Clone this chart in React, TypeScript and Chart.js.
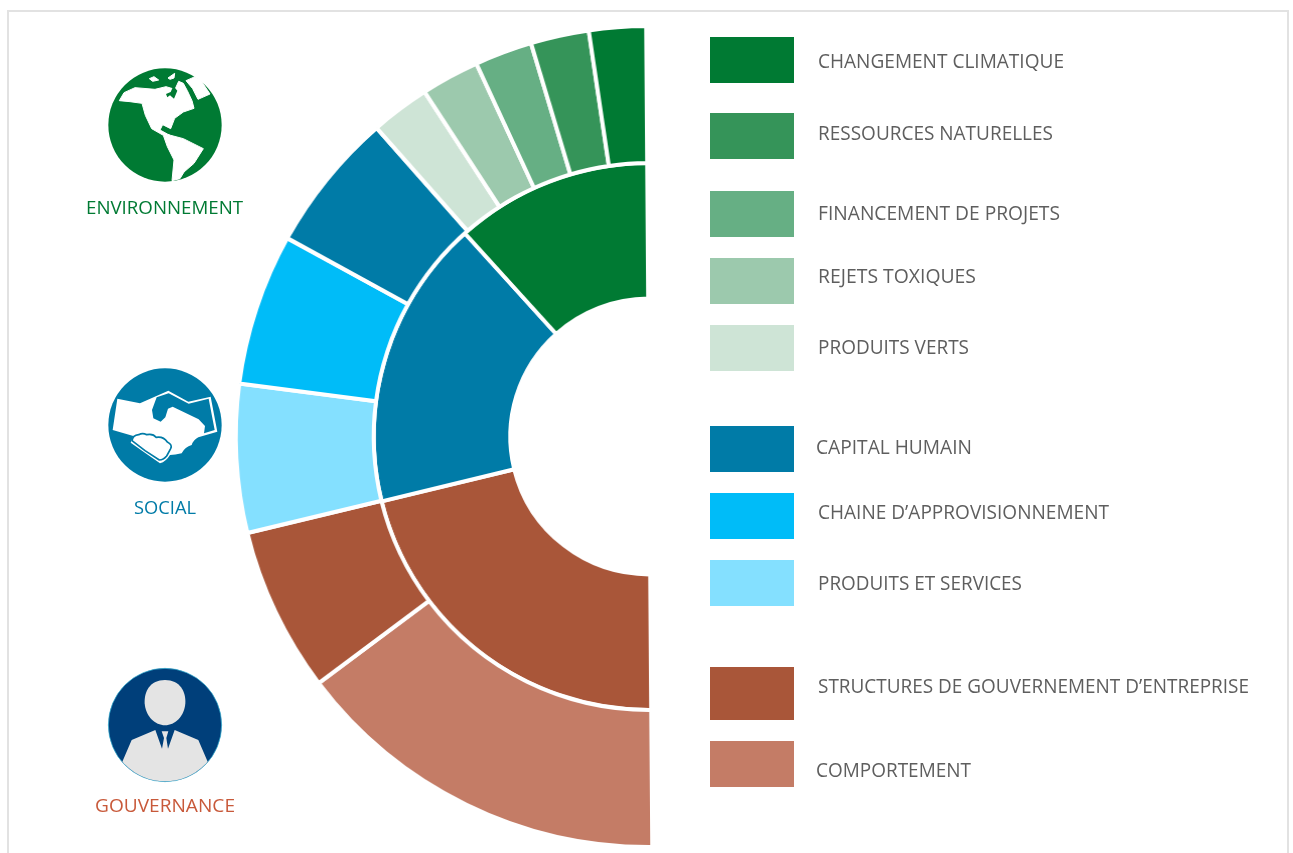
import React, { useEffect, useRef } from "react";
import { Chart, registerables } from "chart.js";

Chart.register(...registerables);

// Data, listed clockwise from the bottom of the half ring
const outerLabels = [
  "COMPORTEMENT",
  "STRUCTURES DE GOUVERNEMENT D’ENTREPRISE",
  "PRODUITS ET SERVICES",
  "CHAINE D’APPROVISIONNEMENT",
  "CAPITAL HUMAIN",
  "PRODUITS VERTS",
  "REJETS TOXIQUES",
  "FINANCEMENT DE PROJETS",
  "RESSOURCES NATURELLES",
  "CHANGEMENT CLIMATIQUE",
];
const outerValues = [53.5, 23.35, 21, 21.5, 19.85, 8.35, 8.2, 8.1, 8.2, 8];
const outerColors = ["#c47c66", "#a95639", "#84e0ff", "#00bcf8", "#007ba7", "#cee4d6", "#9cc9ad", "#66af84", "#359459", "#007a33"];

const innerLabels = ["GOUVERNANCE", "SOCIAL", "ENVIRONNEMENT"];
const innerValues = [76.7, 61.7, 41.6];
const innerColors = ["#a95639", "#007ba7", "#007a33"];

// Legend, top to bottom
const legendNames = [...outerLabels].reverse();
const legendColors = [...outerColors].reverse();
const legendBoxes: [number, number][] = [[37, 46], [113, 46], [191, 46], [258, 46], [325, 46], [426, 46], [493, 46], [560, 46], [667, 53], [741, 46]];
const legendTextY = [68, 140, 220, 283, 354, 454, 519, 590, 693, 777];
const legendTextX = [818, 818, 818, 818, 818, 816, 818, 818, 818, 816];
const legendTextW = [246, 235, 242, 158, 151, 156, 291, 204, 431, 155];

const FONT = "'Open Sans', sans-serif";

function Globe() {
  return (
    <svg style={{ position: "absolute", left: 80, top: 50 }} width={170} height={180} viewBox="0 0 510 540">
      <circle cx={255} cy={225} r={170} fill="#007a33" />
      <g fill="#fff" stroke="#fff" strokeWidth={3} strokeLinejoin="round">
        <path d="M118 152 L132 128 L165 113 L225 118 L258 110 L285 118 L296 94 L310 100 L322 122 L336 152 L342 175 L310 186 L284 205 L272 236 L248 224 L240 240 L262 252 L272 256 L310 266 L370 296 L342 340 L312 366 L300 386 L276 392 L282 330 L262 290 L250 256 L215 236 L196 196 L186 160 L150 155 Z" />
        <path d="M318 92 L345 80 L362 90 L390 132 L354 148 L338 116 Z" />
        <path d="M208 86 L222 80 L236 90 L218 94 Z M264 84 L284 70 L282 84 L270 88 Z" />
      </g>
      <path fill="#007a33" d="M258 132 L272 126 L280 108 L292 122 L282 146 L270 136 L262 142 Z" />
    </svg>
  );
}

function Handshake() {
  return (
    <svg style={{ position: "absolute", left: 90, top: 350 }} width={150} height={180} viewBox="0 0 450 540">
      <circle cx={225} cy={225} r={170} fill="#007ba7" />
      <path fill="#fff" d="M82 146 L150 160 L235 122 L295 155 L362 140 L382 245 L325 262 Q310 270 305 285 Q285 290 275 310 Q255 315 240 315 Q228 335 210 340 L170 312 L122 278 L130 258 L68 240 Z" />
      <path fill="#007ba7" d="M296 161 L356 146 L374 240 L342 250 L345 228 L326 208 L248 170 L234 176 L226 202 L212 215 L190 205 L186 180 L200 142 L236 130 Z" />
      <path fill="none" stroke="#007ba7" strokeWidth={5} strokeLinejoin="round" d="M126 272 Q128 256 146 254 Q158 248 170 254 Q190 250 198 262 Q220 258 232 276 Q248 284 242 296 L230 318 Q220 330 208 330 L165 302 Z" />
    </svg>
  );
}

function Person() {
  return (
    <svg style={{ position: "absolute", left: 80, top: 650 }} width={170} height={180} viewBox="0 0 510 540">
      <defs>
        <clipPath id="personClip"><circle cx={255} cy={225} r={169} /></clipPath>
      </defs>
      <circle cx={255} cy={225} r={170} fill="#003f7a" stroke="#37b6d8" strokeWidth={2} />
      <g clipPath="url(#personClip)">
        <path fill="#e4e4e4" d="M255 90 C300 90 318 125 316 160 C313 200 285 226 255 226 C225 226 197 200 194 160 C192 125 210 90 255 90 Z" />
        <path fill="#e4e4e4" d="M125 340 L155 270 L226 240 L246 296 L252 264 L245 244 L265 244 L259 264 L264 296 L284 240 L355 270 L385 340 L385 400 L125 400 Z" />
      </g>
    </svg>
  );
}

export default function App() {
  const ref = useRef<HTMLCanvasElement | null>(null);

  useEffect(() => {
    if (!ref.current) return;
    const chart = new Chart(ref.current, {
      type: "doughnut",
      data: {
        labels: outerLabels,
        datasets: [
          { label: "Enjeux", data: outerValues, backgroundColor: outerColors, borderColor: "#ffffff", borderWidth: 4, weight: 1.01 },
          { label: "Piliers", data: innerValues, backgroundColor: innerColors, borderColor: "#ffffff", borderWidth: 4 },
        ],
      },
      options: {
        responsive: false,
        animation: false,
        rotation: 179.58,
        circumference: 180,
        cutout: "33.6%",
        layout: { padding: 0 },
        plugins: { legend: { display: false }, tooltip: { enabled: false } },
      },
    });
    return () => chart.destroy();
  }, []);

  return (
    <div style={{ position: "fixed", left: 0, top: 0, width: 1293, height: 853, overflow: "hidden", background: "#fff" }}>
      <div style={{ position: "absolute", left: 7, top: 10, width: 1278, height: 900, border: "2px solid #e2e2e2" }} />
      <canvas ref={ref} width={425} height={825} style={{ position: "absolute", left: 229.5, top: 24, width: 428.6, height: 825 }} />
      <Globe />
      <Handshake />
      <Person />
      {legendNames.map((_, i) => (
        <div key={i} style={{ position: "absolute", left: 710, top: legendBoxes[i][0], width: 84, height: legendBoxes[i][1], background: legendColors[i] }} />
      ))}
      <svg style={{ position: "absolute", left: 0, top: 0 }} width={1293} height={853}>
        {legendNames.map((name, i) => (
          <text key={name} x={legendTextX[i]} y={legendTextY[i]} textLength={legendTextW[i]} lengthAdjust="spacingAndGlyphs" fontFamily={FONT} fontSize={19.5} fill="#5e5e5e">
            {name}
          </text>
        ))}
        <text x={86} y={214} textLength={157} lengthAdjust="spacingAndGlyphs" fontFamily={FONT} fontSize={18.5} fill="#007a33">{innerLabels[2]}</text>
        <text x={134} y={514} textLength={62} lengthAdjust="spacingAndGlyphs" fontFamily={FONT} fontSize={18.5} fill="#007ba7">{innerLabels[1]}</text>
        <text x={95} y={812} textLength={140} lengthAdjust="spacingAndGlyphs" fontFamily={FONT} fontSize={18.5} fill="#c8593a">{innerLabels[0]}</text>
      </svg>
    </div>
  );
}
